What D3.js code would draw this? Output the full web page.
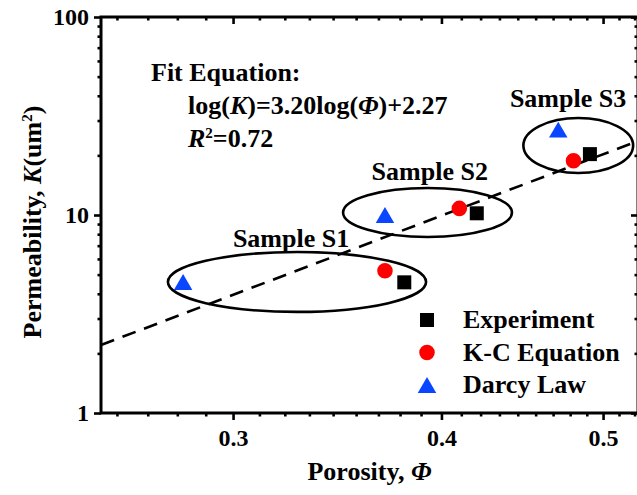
<!DOCTYPE html>
<html>
<head>
<meta charset="utf-8">
<script src="https://cdn.jsdelivr.net/npm/d3@7"></script>
<style>
body { margin: 0; background: #fff; }
text { font-family: "Liberation Serif", "Times New Roman", serif; font-weight: bold; fill: #000; }
</style>
</head>
<body>
<div id="chart"></div>
<script>
// datos
const samples = ["Sample S1", "Sample S2", "Sample S3"]
const phiExp = [0.380, 0.420, 0.491]
const kExp = [4.57, 10.2, 20.3]
const phiKC = [0.370, 0.410, 0.480]
const kKC = [5.23, 10.8, 18.8]
const phiDarcy = [0.280, 0.370, 0.470]
const kDarcy = [4.59, 10.0, 27.0]

// rango de cada elipse (phi min, phi max, K min, K max)
const ellPhiMin = [0.2742, 0.3492, 0.4479]
const ellPhiMax = [0.3916, 0.4409, 0.5212]
const ellKMin = [3.24, 7.74, 16.3]
const ellKMax = [6.50, 13.69, 30.9]
// donde va cada etiqueta
const labelPhi = [0.325, 0.3936, 0.4764]
const labelK = [6.88, 15.0, 35.1]

// ajuste log(K) = a log(phi) + b
const fitSlope = 3.20
const fitIntercept = 2.27

const xDomain = [0.25, 0.5247]
const yDomain = [1, 100]
const xMajor = [0.3, 0.4, 0.5]
const yMajor = [1, 10, 100]

const legendNames = ["Experiment", "K-C Equation", "Darcy Law"]

// constantes
const width = 637
const height = 495
const margin = { top: 17, right: -1, bottom: 82, left: 101 }
const innerW = width - margin.left - margin.right
const innerH = height - margin.top - margin.bottom

const svg = d3.select("div#chart")
  .append("svg")
  .attr("width", width)
  .attr("height", height)

const g = svg.append("g")
  .attr("transform", `translate(${margin.left},${margin.top})`)

const x = d3.scaleLog().domain(xDomain).range([0, innerW])
const y = d3.scaleLog().domain(yDomain).range([innerH, 0])

// minor ticks: x cada 0.1/9, y 2..9 por década
const xMinor = []
for (let i = 0; i < 40; i++) {
  const v = 0.2 + i * 0.1 / 9
  if (v > xDomain[0] && v < xDomain[1] && !xMajor.some(m => Math.abs(m - v) < 1e-6)) xMinor.push(v)
}
const yMinor = []
for (const d of [1, 10]) for (let k = 2; k <= 9; k++) yMinor.push(d * k)

// ejes
const fmt = d => d3.format(".1f")(d)
const axes = g.append("g").attr("class", "axes")

function addAxis(axis, transform) {
  const a = axes.append("g").attr("transform", transform).call(axis)
  a.select(".domain").remove()
  a.selectAll("line").attr("stroke", "#000").attr("stroke-width", 2.6)
  a.selectAll("text").style("font-size", "24px")
  return a
}

addAxis(d3.axisBottom(x).tickValues(xMajor).tickFormat(fmt).tickSize(7).tickPadding(9), `translate(0,${innerH})`)
addAxis(d3.axisBottom(x).tickValues(xMinor).tickFormat("").tickSize(3.5), `translate(0,${innerH})`)
addAxis(d3.axisTop(x).tickValues(xMajor).tickFormat("").tickSize(-7), `translate(0,0)`)
addAxis(d3.axisTop(x).tickValues(xMinor).tickFormat("").tickSize(-3.5), `translate(0,0)`)
addAxis(d3.axisLeft(y).tickValues(yMajor).tickFormat(d3.format("d")).tickSize(7).tickPadding(5), `translate(0,0)`)
addAxis(d3.axisLeft(y).tickValues(yMinor).tickFormat("").tickSize(3.5), `translate(0,0)`)
addAxis(d3.axisRight(y).tickValues(yMajor).tickFormat("").tickSize(-7), `translate(${innerW},0)`)
addAxis(d3.axisRight(y).tickValues(yMinor).tickFormat("").tickSize(-3.5), `translate(${innerW},0)`)

g.append("rect")
  .attr("width", innerW)
  .attr("height", innerH)
  .attr("fill", "none")
  .attr("stroke", "#000")
  .attr("stroke-width", 3)

// títulos de ejes
const xTitle = svg.append("text")
  .attr("x", margin.left + innerW / 2)
  .attr("y", 480)
  .attr("text-anchor", "middle")
  .style("font-size", "26px")
xTitle.append("tspan").text("Porosity, ")
xTitle.append("tspan").style("font-style", "italic").text("Φ")

const yTitle = svg.append("text")
  .attr("transform", "translate(41,222) rotate(-90)")
  .attr("text-anchor", "middle")
  .style("font-size", "26px")
yTitle.append("tspan").text("Permeability, ")
yTitle.append("tspan").style("font-style", "italic").text("K")
yTitle.append("tspan").text("(um")
yTitle.append("tspan").attr("dy", -9).style("font-size", "15px").text("2")
yTitle.append("tspan").attr("dy", 9).text(")")

// línea de ajuste
const fitLine = xDomain.map(p => [p, Math.pow(10, fitSlope * Math.log10(p) + fitIntercept)])
g.append("path")
  .datum(fitLine)
  .attr("fill", "none")
  .attr("stroke", "#000")
  .attr("stroke-width", 2.6)
  .attr("stroke-dasharray", "14,9")
  .attr("d", d3.line().x(d => x(d[0])).y(d => y(d[1])))

// elipses
g.selectAll("ellipse")
  .data(samples)
  .enter()
  .append("ellipse")
  .attr("cx", (d, i) => (x(ellPhiMin[i]) + x(ellPhiMax[i])) / 2)
  .attr("cy", (d, i) => (y(ellKMin[i]) + y(ellKMax[i])) / 2)
  .attr("rx", (d, i) => (x(ellPhiMax[i]) - x(ellPhiMin[i])) / 2)
  .attr("ry", (d, i) => (y(ellKMin[i]) - y(ellKMax[i])) / 2)
  .attr("fill", "none")
  .attr("stroke", "#000")
  .attr("stroke-width", 2.6)

g.selectAll("text.sample")
  .data(samples)
  .enter()
  .append("text")
  .attr("class", "sample")
  .attr("x", (d, i) => x(labelPhi[i]))
  .attr("y", (d, i) => y(labelK[i]))
  .attr("text-anchor", "middle")
  .style("font-size", "26px")
  .text(d => d)

// símbolos
const blue = "#0a46ff"
const triPath = (s) => `M0,${-s * 0.43}L${s / 2},${s * 0.43}L${-s / 2},${s * 0.43}Z`
const squareSym = d3.symbol().type(d3.symbolSquare).size(196)
const circleSym = d3.symbol().type(d3.symbolCircle).size(190)

g.selectAll("path.exp")
  .data(phiExp)
  .enter()
  .append("path")
  .attr("class", "exp")
  .attr("transform", (d, i) => `translate(${x(d)},${y(kExp[i])})`)
  .attr("d", squareSym())
  .attr("fill", "#000")

g.selectAll("path.kc")
  .data(phiKC)
  .enter()
  .append("path")
  .attr("class", "kc")
  .attr("transform", (d, i) => `translate(${x(d)},${y(kKC[i])})`)
  .attr("d", circleSym())
  .attr("fill", "#ff0000")

g.selectAll("path.darcy")
  .data(phiDarcy)
  .enter()
  .append("path")
  .attr("class", "darcy")
  .attr("transform", (d, i) => `translate(${x(d)},${y(kDarcy[i])})`)
  .attr("d", triPath(18.5))
  .attr("fill", blue)

// ecuación
const eq = svg.append("g").style("font-size", "26px")
eq.append("text").attr("x", 151).attr("y", 81).text("Fit Equation:")
const eq2 = eq.append("text").attr("x", 188).attr("y", 114)
eq2.append("tspan").text("log(")
eq2.append("tspan").style("font-style", "italic").text("K")
eq2.append("tspan").text(")=3.20log(")
eq2.append("tspan").style("font-style", "italic").text("Φ")
eq2.append("tspan").text(")+2.27")
const eq3 = eq.append("text").attr("x", 188).attr("y", 147)
eq3.append("tspan").style("font-style", "italic").text("R")
eq3.append("tspan").attr("dy", -9).style("font-size", "15px").text("2")
eq3.append("tspan").attr("dy", 9).text("=0.72")

// leyenda
const legend = svg.append("g").attr("transform", "translate(427,320)")
const rows = legend.selectAll("g")
  .data(legendNames)
  .enter()
  .append("g")
  .attr("transform", (d, i) => `translate(0,${i * 32.5})`)
rows.append("path")
  .attr("d", (d, i) => i === 0 ? squareSym() : i === 1 ? circleSym() : triPath(18.5))
  .attr("fill", (d, i) => i === 0 ? "#000" : i === 1 ? "#ff0000" : blue)
rows.append("text")
  .attr("x", 36)
  .attr("y", 8)
  .style("font-size", "26px")
  .text(d => d)
</script>
</body>
</html>
